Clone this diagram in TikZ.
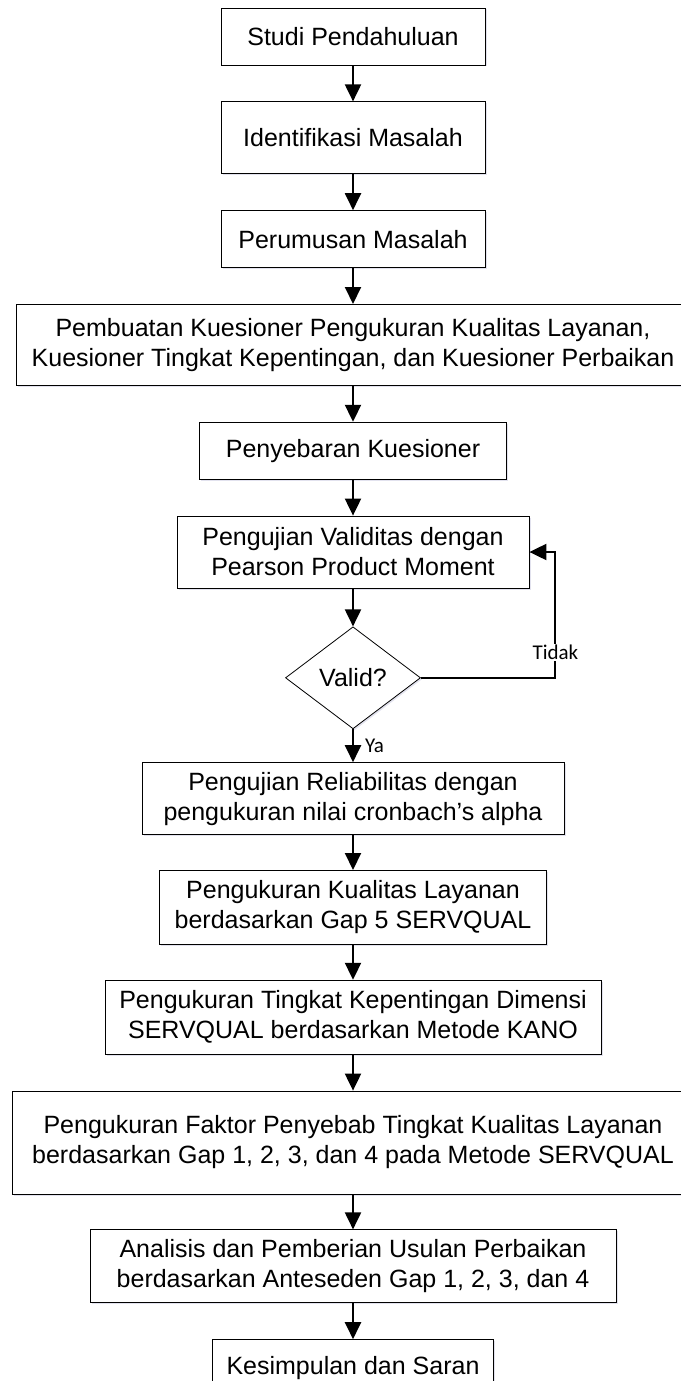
\documentclass[tikz,border=0pt]{standalone}
\usepackage{fontspec}
\setmainfont{Liberation Sans}
\newfontfamily\labelfont{Carlito}
\usetikzlibrary{positioning,arrows.meta,shapes.geometric,shadows,calc}

\tikzset{
  proc/.style={draw, line width=0.8pt, fill=white, align=center, inner sep=0pt,
    drop shadow={shadow xshift=1.5pt, shadow yshift=-1.5pt, fill=blue!25!gray, opacity=0.18}},
  cond/.style={proc, diamond, aspect=1.32},
  flow/.style={line width=2pt, -{Triangle[width=16pt,length=17pt]}},
  lbl/.style={font=\labelfont\fontsize{21}{23}\selectfont, inner sep=1pt}
}

\begin{document}
\begin{tikzpicture}[node distance=36pt,
   every node/.style={font=\fontsize{25}{30}\selectfont}]
  \useasboundingbox (0,0) rectangle (680pt,-1381pt);
  \node[proc, minimum width=264pt, minimum height=57pt] (studi) at (353pt,-36.5pt) {Studi Pendahuluan};
  \node[proc, minimum width=264pt, minimum height=72pt, below=of studi] (identi) {Identifikasi Masalah};
  \node[proc, minimum width=264pt, minimum height=57pt, below=of identi] (rumus) {Perumusan Masalah};
  \node[proc, minimum width=674pt, minimum height=81pt, below=of rumus] (buat)
    {Pembuatan Kuesioner Pengukuran Kualitas Layanan,\\Kuesioner Tingkat Kepentingan, dan Kuesioner Perbaikan};
  \node[proc, minimum width=307pt, minimum height=57pt, below=of buat] (sebar) {Penyebaran Kuesioner};
  \node[proc, minimum width=352pt, minimum height=72pt, below=of sebar] (uji)
    {Pengujian Validitas dengan\\Pearson Product Moment};
  \node[cond, minimum width=135pt, minimum height=102pt, below=38pt of uji] (valid) {Valid?};
  \node[proc, minimum width=422pt, minimum height=72pt, below=33pt of valid] (reli)
    {Pengujian Reliabilitas dengan\\pengukuran nilai cronbach’s alpha};
  \node[proc, minimum width=387pt, minimum height=74pt, below=35pt of reli] (kual)
    {Pengukuran Kualitas Layanan\\berdasarkan Gap 5 SERVQUAL};
  \node[proc, minimum width=496pt, minimum height=74pt, below=35pt of kual] (kano)
    {Pengukuran Tingkat Kepentingan Dimensi\\SERVQUAL berdasarkan Metode KANO};
  \node[proc, minimum width=682pt, minimum height=103pt, below=of kano] (faktor)
    {Pengukuran Faktor Penyebab Tingkat Kualitas Layanan\\berdasarkan Gap 1, 2, 3, dan 4 pada Metode SERVQUAL};
  \node[proc, minimum width=526pt, minimum height=73pt, below=35pt of faktor] (analisis)
    {Analisis dan Pemberian Usulan Perbaikan\\berdasarkan Anteseden Gap 1, 2, 3, dan 4};
  \node[proc, minimum width=281pt, minimum height=57pt, below=of analisis] (simpul) {Kesimpulan dan Saran};
  % alur utama
  \draw[flow] (studi) -- (identi);
  \draw[flow] (identi) -- (rumus);
  \draw[flow] (rumus) -- (buat);
  \draw[flow] (buat) -- (sebar);
  \draw[flow] (sebar) -- (uji);
  \draw[flow] (uji) -- (valid);
  \draw[flow] (valid) -- node[lbl, right=10pt] {Ya} (reli);
  \draw[flow] (reli) -- (kual);
  \draw[flow] (kual) -- (kano);
  \draw[flow] (kano) -- (faktor);
  \draw[flow] (faktor) -- (analisis);
  \draw[flow] (analisis) -- (simpul);
  % kembali jika tidak valid
  \coordinate (putar) at ($(uji.east)+(26pt,0)$);
  \draw[flow] (valid.east) -| node[lbl, pos=0.6, fill=white] {Tidak} (putar) -- (uji.east);
\end{tikzpicture}
\end{document}
